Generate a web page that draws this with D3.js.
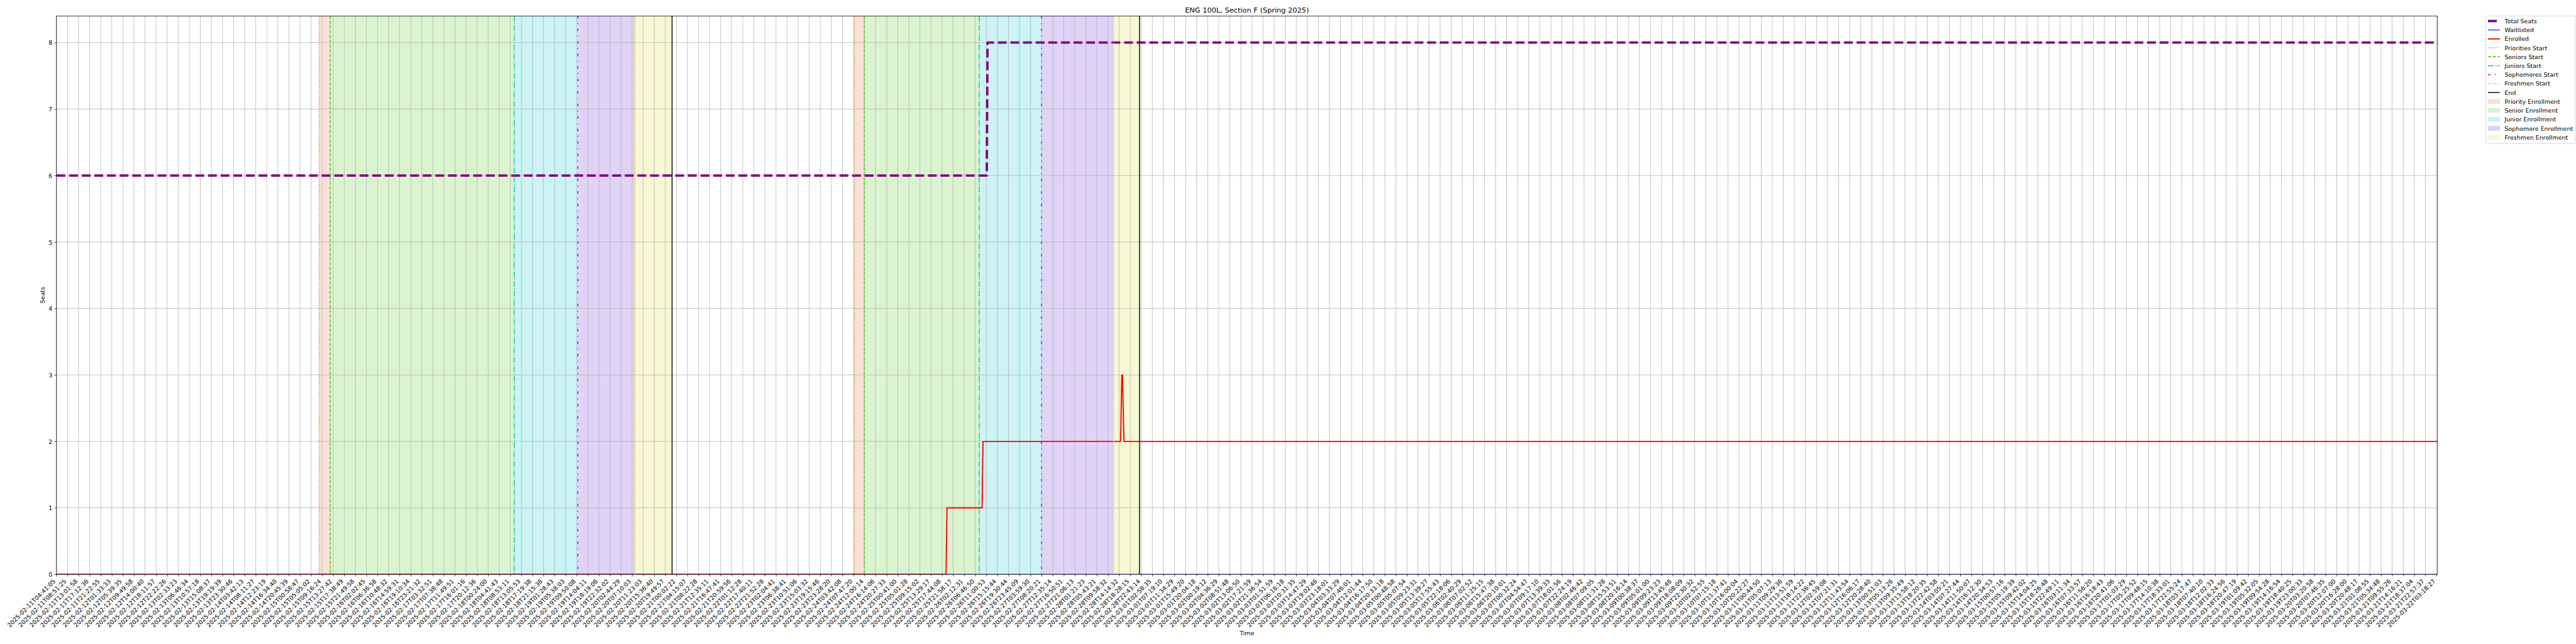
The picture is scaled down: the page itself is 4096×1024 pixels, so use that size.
<!DOCTYPE html>
<html><head><meta charset="utf-8">
<script src="https://cdn.jsdelivr.net/npm/d3@7"></script>
<style>
html,body{margin:0;padding:0;background:#fff;}
svg{display:block;}
text{font-family:"DejaVu Sans",sans-serif;fill:#000;}
</style>
</head><body>
<svg id="chart" width="4096" height="1024"></svg>
<script>
// ---------------- data ----------------
const chartTitle = "ENG 100L, Section F (Spring 2025)";
const xTitle = "Time";
const yTitle = "Seats";
// x tick labels (one every N samples; x positions are sample-tick indices)
const tickLabels = [
"2025-02-11T04:41:05","2025-02-11T08:51:25","2025-02-11T13:01:58","2025-02-11T17:12:36","2025-02-11T21:22:55",
"2025-02-12T01:33:33","2025-02-12T05:39:35","2025-02-12T09:49:58","2025-02-12T14:00:40","2025-02-12T18:11:57",
"2025-02-12T22:22:26","2025-02-13T02:33:23","2025-02-13T06:46:34","2025-02-13T10:57:18","2025-02-13T15:08:37",
"2025-02-13T19:19:39","2025-02-13T23:30:46","2025-02-14T03:42:13","2025-02-14T08:11:27","2025-02-14T12:23:19",
"2025-02-14T16:34:40","2025-02-14T20:45:39","2025-02-15T00:58:47","2025-02-15T05:05:02","2025-02-15T09:16:24",
"2025-02-15T13:27:42","2025-02-15T17:38:49","2025-02-15T21:49:58","2025-02-16T02:02:45","2025-02-16T06:36:58",
"2025-02-16T10:48:32","2025-02-16T14:59:31","2025-02-16T19:10:34","2025-02-16T23:21:32","2025-02-17T03:32:51",
"2025-02-17T07:38:48","2025-02-17T11:49:51","2025-02-17T16:01:16","2025-02-17T20:12:36","2025-02-18T00:24:00",
"2025-02-18T04:41:43","2025-02-18T08:53:11","2025-02-18T13:05:53","2025-02-18T17:19:38","2025-02-18T21:15:36",
"2025-02-19T01:28:43","2025-02-19T05:38:03","2025-02-19T09:50:08","2025-02-19T14:04:11","2025-02-19T18:19:06",
"2025-02-19T22:32:02","2025-02-20T02:44:29","2025-02-20T07:10:03","2025-02-20T11:23:03","2025-02-20T15:36:40",
"2025-02-20T19:49:57","2025-02-21T00:02:22","2025-02-21T04:15:07","2025-02-21T08:22:28","2025-02-21T12:35:11",
"2025-02-21T16:47:41","2025-02-21T20:59:56","2025-02-22T01:12:28","2025-02-22T17:40:11","2025-02-22T21:52:28",
"2025-02-23T02:04:41","2025-02-23T06:38:41","2025-02-23T10:51:06","2025-02-23T15:03:32","2025-02-23T19:15:46",
"2025-02-23T23:28:20","2025-02-24T03:42:08","2025-02-24T07:47:20","2025-02-24T12:00:14","2025-02-24T16:14:06",
"2025-02-24T20:27:33","2025-02-25T00:41:00","2025-02-25T05:01:28","2025-02-25T09:15:02","2025-02-25T13:29:17",
"2025-02-25T17:44:08","2025-02-25T21:58:17","2025-02-26T02:12:31","2025-02-26T06:46:50","2025-02-26T11:00:53",
"2025-02-26T15:15:44","2025-02-26T19:30:44","2025-02-26T23:45:09","2025-02-27T03:59:30","2025-02-27T08:20:21",
"2025-02-27T12:35:14","2025-02-27T16:50:51","2025-02-27T21:06:13","2025-02-28T01:21:23","2025-02-28T05:43:21",
"2025-02-28T09:58:32","2025-02-28T14:14:32","2025-02-28T18:28:15","2025-02-28T22:43:14","2025-03-01T02:58:35",
"2025-03-01T07:19:10","2025-03-01T11:34:29","2025-03-01T15:49:20","2025-03-01T20:04:18","2025-03-02T00:19:12",
"2025-03-02T04:36:29","2025-03-02T08:51:48","2025-03-02T13:06:50","2025-03-02T17:21:59","2025-03-02T21:36:54",
"2025-03-03T01:51:59","2025-03-03T06:16:18","2025-03-03T10:31:35","2025-03-03T14:47:29","2025-03-03T19:02:46",
"2025-03-03T23:18:01","2025-03-04T03:33:29","2025-03-04T07:46:01","2025-03-04T12:01:44","2025-03-04T16:17:50",
"2025-03-04T20:33:18","2025-03-05T00:48:58","2025-03-05T05:07:54","2025-03-05T09:23:31","2025-03-05T13:39:27",
"2025-03-05T17:55:43",
// estimated (not legible at available zoom)
"2025-03-05T22:18:06","2025-03-06T02:40:29","2025-03-06T07:02:52","2025-03-06T11:25:15","2025-03-06T15:47:38",
"2025-03-06T20:10:01","2025-03-07T00:32:24","2025-03-07T04:54:47","2025-03-07T09:17:10","2025-03-07T13:39:33",
"2025-03-07T18:01:56","2025-03-07T22:24:19","2025-03-08T02:46:42","2025-03-08T07:09:05","2025-03-08T11:31:28",
"2025-03-08T15:53:51","2025-03-08T20:16:14","2025-03-09T00:38:37","2025-03-09T05:01:00","2025-03-09T09:23:23",
"2025-03-09T13:45:46","2025-03-09T18:08:09","2025-03-09T22:30:32","2025-03-10T02:52:55","2025-03-10T07:15:18",
"2025-03-10T11:37:41","2025-03-10T16:00:04","2025-03-10T20:22:27","2025-03-11T00:44:50","2025-03-11T05:07:13",
"2025-03-11T09:29:36","2025-03-11T13:51:59","2025-03-11T18:14:22","2025-03-11T22:36:45","2025-03-12T02:59:08",
"2025-03-12T07:21:31","2025-03-12T11:43:54","2025-03-12T16:06:17","2025-03-12T20:28:40","2025-03-13T00:51:03",
"2025-03-13T05:13:26","2025-03-13T09:35:49","2025-03-13T13:58:12","2025-03-13T18:20:35","2025-03-13T22:42:58",
"2025-03-14T03:05:21","2025-03-14T07:27:44","2025-03-14T11:50:07","2025-03-14T16:12:30","2025-03-14T20:34:53",
"2025-03-15T00:57:16","2025-03-15T05:19:39","2025-03-15T09:42:02","2025-03-15T14:04:25","2025-03-15T18:26:48",
"2025-03-15T22:49:11","2025-03-16T03:11:34","2025-03-16T07:33:57","2025-03-16T11:56:20","2025-03-16T16:18:43",
"2025-03-16T20:41:06","2025-03-17T01:03:29","2025-03-17T05:25:52","2025-03-17T09:48:15","2025-03-17T14:10:38",
"2025-03-17T18:33:01","2025-03-17T22:55:24","2025-03-18T03:17:47","2025-03-18T07:40:10","2025-03-18T12:02:33",
"2025-03-18T16:24:56","2025-03-18T20:47:19","2025-03-19T01:09:42","2025-03-19T05:32:05","2025-03-19T09:54:28",
"2025-03-19T14:16:54",
"2025-03-19T18:40:25","2025-03-19T23:00:33","2025-03-20T03:20:58","2025-03-20T07:46:35",
"2025-03-20T12:07:00","2025-03-20T16:28:00","2025-03-20T20:48:17","2025-03-21T01:08:55","2025-03-21T05:34:48",
"2025-03-21T09:55:26","2025-03-21T14:16:21","2025-03-21T18:37:04","2025-03-21T22:57:37","2025-03-22T03:18:27"
];
const xMax = 215.1;           // last sample position (in tick units)
const yTicks = [0,1,2,3,4,5,6,7,8];
const yMax = 8.4;

// series: x in tick-index units
const seatsX = [0, 84.04, 84.11, 215.1];
const seatsY = [6, 6, 8, 8];
const waitX  = [0, 215.1];
const waitY  = [0, 0];
const enrX   = [0, 80.36, 80.45, 83.62, 83.70, 96.13, 96.24, 96.30, 96.43, 215.1];
const enrY   = [0, 0, 1, 1, 2, 2, 3, 3, 2, 2];

// enrollment phase boundaries (two windows)
const phaseLines = ["Priorities Start","Seniors Start","Juniors Start","Sophomores Start","Freshmen Start","End"];
const phaseSpans = ["Priority Enrollment","Senior Enrollment","Junior Enrollment","Sophomore Enrollment","Freshmen Enrollment"];
const windowA = [23.73, 24.73, 41.35, 47.09, 52.25, 55.61];
const windowB = [72.08, 72.97, 83.36, 88.99, 95.49, 97.84];
const phaseColors = ["#e06a2c","#44c814","#00c4cc","#6a24d8","#dcdc28","#000000"];

// ---------------- drawing ----------------
const S = 0.682;
const PT = 100/72;            // px per point at the reference dpi
const FS = 10*PT, TFS = 12*PT;
const L = 131.7, R = 5683, T = 37.3, B = 1339;

const svg = d3.select("#chart");
const g = svg.append("g").attr("transform", `scale(${S})`);

const x = d3.scaleLinear().domain([0, xMax]).range([L, R]);
const y = d3.scaleLinear().domain([0, yMax]).range([B, T]);
const tickIdx = d3.range(tickLabels.length);

// spans
const spans = g.append("g");
[windowA, windowB].forEach(w => {
  for (let i = 0; i < 5; i++) {
    spans.append("rect")
      .attr("x", x(w[i])).attr("y", T)
      .attr("width", x(w[i+1]) - x(w[i])).attr("height", B - T)
      .attr("fill", phaseColors[i]).attr("fill-opacity", 0.2);
  }
});

// grid
const grid = g.append("g").attr("stroke", "#b0b0b0").attr("stroke-width", 0.8*PT);
grid.selectAll("line.v").data(tickIdx).join("line")
  .attr("x1", d => x(d)).attr("x2", d => x(d)).attr("y1", T).attr("y2", B);
grid.selectAll("line.h").data(yTicks).join("line")
  .attr("x1", L).attr("x2", R).attr("y1", d => y(d)).attr("y2", d => y(d));

// clip
svg.append("defs").append("clipPath").attr("id","clip")
  .append("rect").attr("x", L).attr("y", T).attr("width", R-L).attr("height", B-T);
const plot = g.append("g").attr("clip-path", "url(#clip)");

const line = d3.line().x(d => x(d[0])).y(d => y(d[1]));
const zip = (a, b) => a.map((v, i) => [v, b[i]]);

const seatsLW = 4*PT;
plot.append("path").attr("d", line(zip(seatsX, seatsY)))
  .attr("fill","none").attr("stroke","#800080").attr("stroke-width", seatsLW)
  .attr("stroke-dasharray", `${3.7*seatsLW} ${1.6*seatsLW}`).attr("stroke-linejoin","round");
plot.append("path").attr("d", line(zip(waitX, waitY)))
  .attr("fill","none").attr("stroke","#0000ff").attr("stroke-width", 1.2*PT);
plot.append("path").attr("d", line(zip(enrX, enrY)))
  .attr("fill","none").attr("stroke","#ff0000").attr("stroke-width", 2*PT).attr("stroke-linejoin","round");

// phase lines
const evLW = 1.5*PT;
const dashes = [
  [1*evLW, 1.65*evLW],
  [3.7*evLW, 1.6*evLW],
  [6.4*evLW, 1.6*evLW, 1*evLW, 1.6*evLW],
  [3*evLW, 5*evLW, 1*evLW, 5*evLW],
  [3*evLW, 1*evLW, 1*evLW, 1*evLW],
  null
];
const evWidths = [evLW, evLW, evLW, evLW, evLW, 1.5*PT];
[windowA, windowB].forEach(w => {
  w.forEach((v, i) => {
    plot.append("line").attr("x1", x(v)).attr("x2", x(v)).attr("y1", T).attr("y2", B)
      .attr("stroke", phaseColors[i]).attr("stroke-width", evWidths[i])
      .attr("stroke-dasharray", dashes[i] ? dashes[i].join(" ") : null);
  });
});

// axes
const tickLen = 3.5*PT, tickPad = 3.5*PT;
const xAxis = d3.axisBottom(x).tickValues(tickIdx).tickFormat(i => tickLabels[i])
  .tickSize(tickLen).tickPadding(tickPad);
const gx = g.append("g").attr("transform", `translate(0,${B})`).call(xAxis);
gx.select(".domain").remove();
gx.selectAll(".tick line").attr("stroke","#000").attr("stroke-width", 0.8*PT);
const asc = 0.76*FS, desc = 0.208*FS, c45 = Math.SQRT1_2;
gx.selectAll(".tick text")
  .attr("font-size", FS).attr("font-family", "DejaVu Sans")
  .attr("x", 0).attr("y", 0).attr("dy", null)
  .attr("text-anchor", "end")
  .attr("transform", `translate(${-desc*c45},${tickLen + tickPad + asc*c45}) rotate(-45)`);

const yAxis = d3.axisLeft(y).tickValues(yTicks).tickFormat(d3.format("d"))
  .tickSize(tickLen).tickPadding(tickPad);
const gy = g.append("g").attr("transform", `translate(${L},0)`).call(yAxis);
gy.select(".domain").remove();
gy.selectAll(".tick line").attr("stroke","#000").attr("stroke-width", 0.8*PT);
gy.selectAll(".tick text").attr("font-size", FS).attr("font-family","DejaVu Sans").attr("dy","0.36em");

// spines
g.append("rect").attr("x", L).attr("y", T).attr("width", R-L).attr("height", B-T)
  .attr("fill","none").attr("stroke","#000").attr("stroke-width", 0.8*PT);

// titles
g.append("text").attr("x", (L+R)/2).attr("y", T - 6*PT - 0.3).attr("text-anchor","middle")
  .attr("font-size", TFS).text(chartTitle);
g.append("text").attr("x", (L+R)/2).attr("y", 1481).attr("text-anchor","middle")
  .attr("font-size", FS).text(xTitle);
g.append("text").attr("transform", `translate(104,${(T+B)/2}) rotate(-90)`).attr("text-anchor","middle")
  .attr("font-size", FS).text(yTitle);

// legend
const lg = g.append("g").attr("transform", `translate(5795,${T})`);
const lgBox = lg.append("rect").attr("x",0).attr("y",0).attr("rx", 0.2*FS).attr("ry", 0.2*FS)
  .attr("fill","#fff").attr("fill-opacity",0.8).attr("stroke","#cccccc").attr("stroke-width", 0.8*PT);
const entries = [
  {label:"Total Seats", type:"line", color:"#800080", w:seatsLW, dash:[3.7*seatsLW, 1.6*seatsLW]},
  {label:"Waitlisted", type:"line", color:"#0000ff", w:1.2*PT, dash:null},
  {label:"Enrolled", type:"line", color:"#ff0000", w:2*PT, dash:null},
];
phaseLines.forEach((n, i) => entries.push({label:n, type:"line", color:phaseColors[i], w:evWidths[i], dash:dashes[i]}));
phaseSpans.forEach((n, i) => entries.push({label:n, type:"patch", color:phaseColors[i]}));
const pad = 0.4*FS, hl = 2*FS, htp = 0.8*FS, rowH = 1.5*FS;
let maxW = 0;
entries.forEach((e, i) => {
  const cy = 11.7 + i*rowH;
  if (e.type === "line") {
    lg.append("line").attr("x1", pad).attr("x2", pad+hl).attr("y1", cy).attr("y2", cy)
      .attr("stroke", e.color).attr("stroke-width", e.w)
      .attr("stroke-dasharray", e.dash ? e.dash.join(" ") : null);
  } else {
    lg.append("rect").attr("x", pad).attr("y", cy - 0.35*FS).attr("width", hl).attr("height", 0.7*FS)
      .attr("fill", e.color).attr("fill-opacity", 0.2)
      .attr("stroke", e.color).attr("stroke-opacity", 0.2).attr("stroke-width", 0.8*PT);
  }
  const t = lg.append("text").attr("x", pad+hl+htp).attr("y", cy + 0.38*FS)
    .attr("font-size", FS).text(e.label);
  maxW = Math.max(maxW, t.node().getComputedTextLength());
});
lgBox.attr("width", pad+hl+htp+maxW+pad).attr("height", 297.7);
</script>
</body></html>
